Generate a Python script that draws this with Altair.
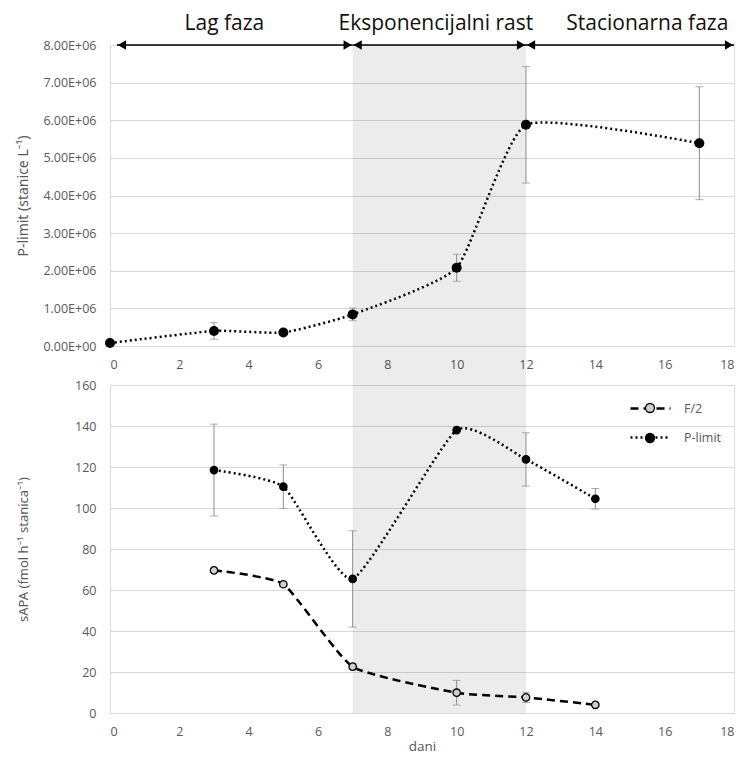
import altair as alt
import pandas as pd

# ---------------- data ----------------
days_top = [0, 3, 5, 7, 10, 12, 17]
cells_top = [0.08e6, 0.40e6, 0.36e6, 0.84e6, 2.08e6, 5.88e6, 5.39e6]
cells_err = [0.02e6, 0.22e6, 0.06e6, 0.17e6, 0.36e6, 1.55e6, 1.50e6]

days_bot = [3, 5, 7, 10, 12, 14]
sapa_f2 = [69.6, 62.8, 22.6, 9.9, 7.6, 4.0]
sapa_f2_err = [1.0, 1.0, 1.5, 6.0, 2.5, 0.5]
sapa_plim = [118.5, 110.4, 65.4, 138.0, 123.7, 104.5]
sapa_plim_err = [22.4, 10.6, 23.5, 0.0, 13.0, 5.0]
series_names = ["F/2", "P-limit"]

phase_names = ["Lag faza", "Eksponencijalni rast", "Stacionarna faza"]
phase_start = [0.2, 7, 12]
phase_end = [7, 12, 18]
phase_mid = [3.3, 9.4, 15.5]

shade_start = [7]
shade_end = [12]

x_ticks = list(range(0, 19, 2))
top_ticks = [i * 1e6 for i in range(0, 9)]
bot_ticks = list(range(0, 161, 20))

# ---------------- tables ----------------
top_df = pd.DataFrame({
    "day": days_top,
    "cells": cells_top,
    "lo": [v - e for v, e in zip(cells_top, cells_err)],
    "hi": [v + e for v, e in zip(cells_top, cells_err)],
})
bot_rows = []
for i, (vals, errs) in enumerate([(sapa_f2, sapa_f2_err), (sapa_plim, sapa_plim_err)]):
    for d, v, e in zip(days_bot, vals, errs):
        bot_rows.append({"day": d, "sapa": v, "lo": v - e, "hi": v + e,
                         "serija": series_names[i], "grp": str(i + 1)})
bot_df = pd.DataFrame(bot_rows)
phase_df = pd.DataFrame({"name": phase_names, "start": phase_start,
                         "end": phase_end, "mid": phase_mid,
                         "y": [8e6] * len(phase_names)})
shade_df = pd.DataFrame({"x": shade_start, "x2": shade_end})

# ---------------- layout ----------------
W = 624
H1 = 301
GAP = 39
H2 = 328
FONT = "Open Sans"
TFONT = "Noto Sans"
LAB = "#595959"
GRID = "#d9d9d9"
ERR = "#8c8c8c"
SMOOTH = dict(interpolate="cardinal", tension=0.5)

x_scale = alt.Scale(domain=[0, 18], nice=False, zero=False)


def x_axis(title=None, pad=9, tpad=2):
    return alt.Axis(values=x_ticks, grid=False, ticks=False, domainColor=GRID,
                    labelPadding=pad, labelFontSize=12.5, labelColor=LAB, labelFont=FONT,
                    title=title, titleFont=FONT, titleFontSize=13.5, titleColor=LAB,
                    titleFontWeight="normal", titlePadding=tpad)


def y_axis(title, values, label_expr=None, tsize=13.5):
    kw = dict(values=values, title=title, grid=True, gridColor=GRID, ticks=False,
              domainColor=GRID, labelPadding=14, labelFontSize=12.5, labelColor=LAB,
              labelFont=FONT, titleFont=TFONT, titleFontSize=tsize, titleColor=LAB,
              titleFontWeight="normal", minExtent=72, titlePadding=8)
    if label_expr:
        kw["labelExpr"] = label_expr
    return alt.Axis(**kw)


# ---------------- top panel ----------------
top_y_scale = alt.Scale(domain=[0, 8e6], nice=False)
top_y_axis = y_axis("P-limit (stanice L⁻¹)", top_ticks,
                    "datum.value == 0 ? '0.00E+00' : format(datum.value / 1000000, '.2f') + 'E+06'",
                    tsize=14)
top_x_axis = x_axis(None, pad=12)


def TY(field):
    return alt.Y(field, scale=top_y_scale, axis=top_y_axis)


def TX(field):
    return alt.X(field, scale=x_scale, axis=top_x_axis)


shade_top = alt.Chart(shade_df).mark_rect(color="black", opacity=0.075, clip=False).encode(
    x=TX("x:Q"), x2="x2:Q", y=alt.value(0), y2=alt.value(H1 + GAP))

arrow_line = alt.Chart(phase_df).mark_rule(color="black", strokeWidth=1.5).encode(
    x=TX("start:Q"), x2="end:Q", y=TY("y:Q"))
arrow_left = alt.Chart(phase_df).mark_point(shape="triangle-left", filled=True, color="black",
                                            size=90, opacity=1, xOffset=5).encode(
    x=TX("start:Q"), y=TY("y:Q"))
arrow_right = alt.Chart(phase_df).mark_point(shape="triangle-right", filled=True, color="black",
                                             size=90, opacity=1, xOffset=-5).encode(
    x=TX("end:Q"), y=TY("y:Q"))
phase_text = alt.Chart(phase_df).mark_text(font=FONT, fontSize=21, color="#111111",
                                           baseline="middle", align="center").encode(
    x=TX("mid:Q"), y=alt.value(-21), text="name:N")

top_err = alt.Chart(top_df).mark_rule(color=ERR, strokeWidth=1).encode(
    x=TX("day:Q"), y=TY("lo:Q"), y2="hi:Q")
top_caps = alt.Chart(top_df).transform_fold(["lo", "hi"], as_=["k", "v"]).mark_tick(
    orient="horizontal", size=8, thickness=1, color=ERR).encode(
    x=TX("day:Q"), y=TY("v:Q"))
top_line = alt.Chart(top_df).mark_line(color="black", strokeWidth=2.5, strokeDash=[2, 3],
                                       **SMOOTH).encode(
    x=TX("day:Q"), y=TY("cells:Q"))
top_pts = alt.Chart(top_df).mark_circle(color="black", size=100, opacity=1).encode(
    x=TX("day:Q"), y=TY("cells:Q"))

top = alt.layer(shade_top, arrow_line, arrow_left, arrow_right, top_err, top_caps,
                top_line, top_pts, phase_text).properties(width=W, height=H1)

# ---------------- bottom panel ----------------
bot_y_scale = alt.Scale(domain=[0, 160], nice=False)
bot_y_axis = y_axis("sAPA (fmol h⁻¹ stanica⁻¹)", bot_ticks, tsize=13)
bot_x_axis = x_axis("dani", pad=12, tpad=2)


def BY(field):
    return alt.Y(field, scale=bot_y_scale, axis=bot_y_axis)


def BX(field):
    return alt.X(field, scale=x_scale, axis=bot_x_axis)


shade_bot = alt.Chart(shade_df).mark_rect(color="black", opacity=0.075).encode(
    x=BX("x:Q"), x2="x2:Q", y=alt.value(0), y2=alt.value(H2))

bot_err = alt.Chart(bot_df).transform_filter("datum.hi - datum.lo > 0").mark_rule(
    color=ERR, strokeWidth=1).encode(x=BX("day:Q"), y=BY("lo:Q"), y2="hi:Q")
bot_caps = alt.Chart(bot_df).transform_filter("datum.hi - datum.lo > 0").transform_fold(
    ["lo", "hi"], as_=["k", "v"]).mark_tick(
    orient="horizontal", size=8, thickness=1, color=ERR).encode(
    x=BX("day:Q"), y=BY("v:Q"))

LEG_X = 531
LEG_Y = 14
line_sym = "M-2.5,0L2.5,0"
circ_sym = "M-0.56,0A0.56,0.56,0,1,1,0.56,0A0.56,0.56,0,1,1,-0.56,0Z"

bot_line = alt.Chart(bot_df).mark_line(color="black", strokeWidth=2.5, **SMOOTH).encode(
    x=BX("day:Q"), y=BY("sapa:Q"),
    strokeDash=alt.StrokeDash(
        "serija:N",
        scale=alt.Scale(domain=series_names, range=[[8, 5], [2, 3]]),
        legend=alt.Legend(title=None, orient="none", legendX=LEG_X, legendY=LEG_Y,
                          padding=0, symbolType=line_sym, symbolSize=256,
                          symbolStrokeColor="black", symbolStrokeWidth=2.5,
                          labelFont=FONT, labelFontSize=12.5, labelColor=LAB,
                          labelOffset=24, rowPadding=13)),
    detail="serija:N")

bot_pts = alt.Chart(bot_df).mark_circle(size=55, opacity=1, stroke="black",
                                        strokeWidth=1.3).encode(
    x=BX("day:Q"), y=BY("sapa:Q"),
    fill=alt.Fill("grp:N", scale=alt.Scale(domain=["1", "2"], range=["#d0d0d0", "#000000"]),
                  legend=alt.Legend(title=None, orient="none", legendX=LEG_X, legendY=LEG_Y,
                                    padding=0, symbolType=circ_sym, symbolSize=256,
                                    symbolStrokeColor="black", symbolStrokeWidth=1.3,
                                    symbolOpacity=1, labelExpr="''",
                                    labelFont=FONT, labelFontSize=12.5,
                                    labelOffset=24, rowPadding=13)))

bot = alt.layer(shade_bot, bot_err, bot_caps, bot_line, bot_pts).properties(
    width=W, height=H2).resolve_legend(strokeDash="independent", fill="independent")

chart = alt.vconcat(top, bot, spacing=GAP, bounds="flush").properties(
    padding={"left": 7, "top": 4, "right": 0, "bottom": 0}
).configure_view(strokeWidth=0).configure(font=FONT)

chart.save("out.html", embed_options={"renderer": "svg", "actions": False})
